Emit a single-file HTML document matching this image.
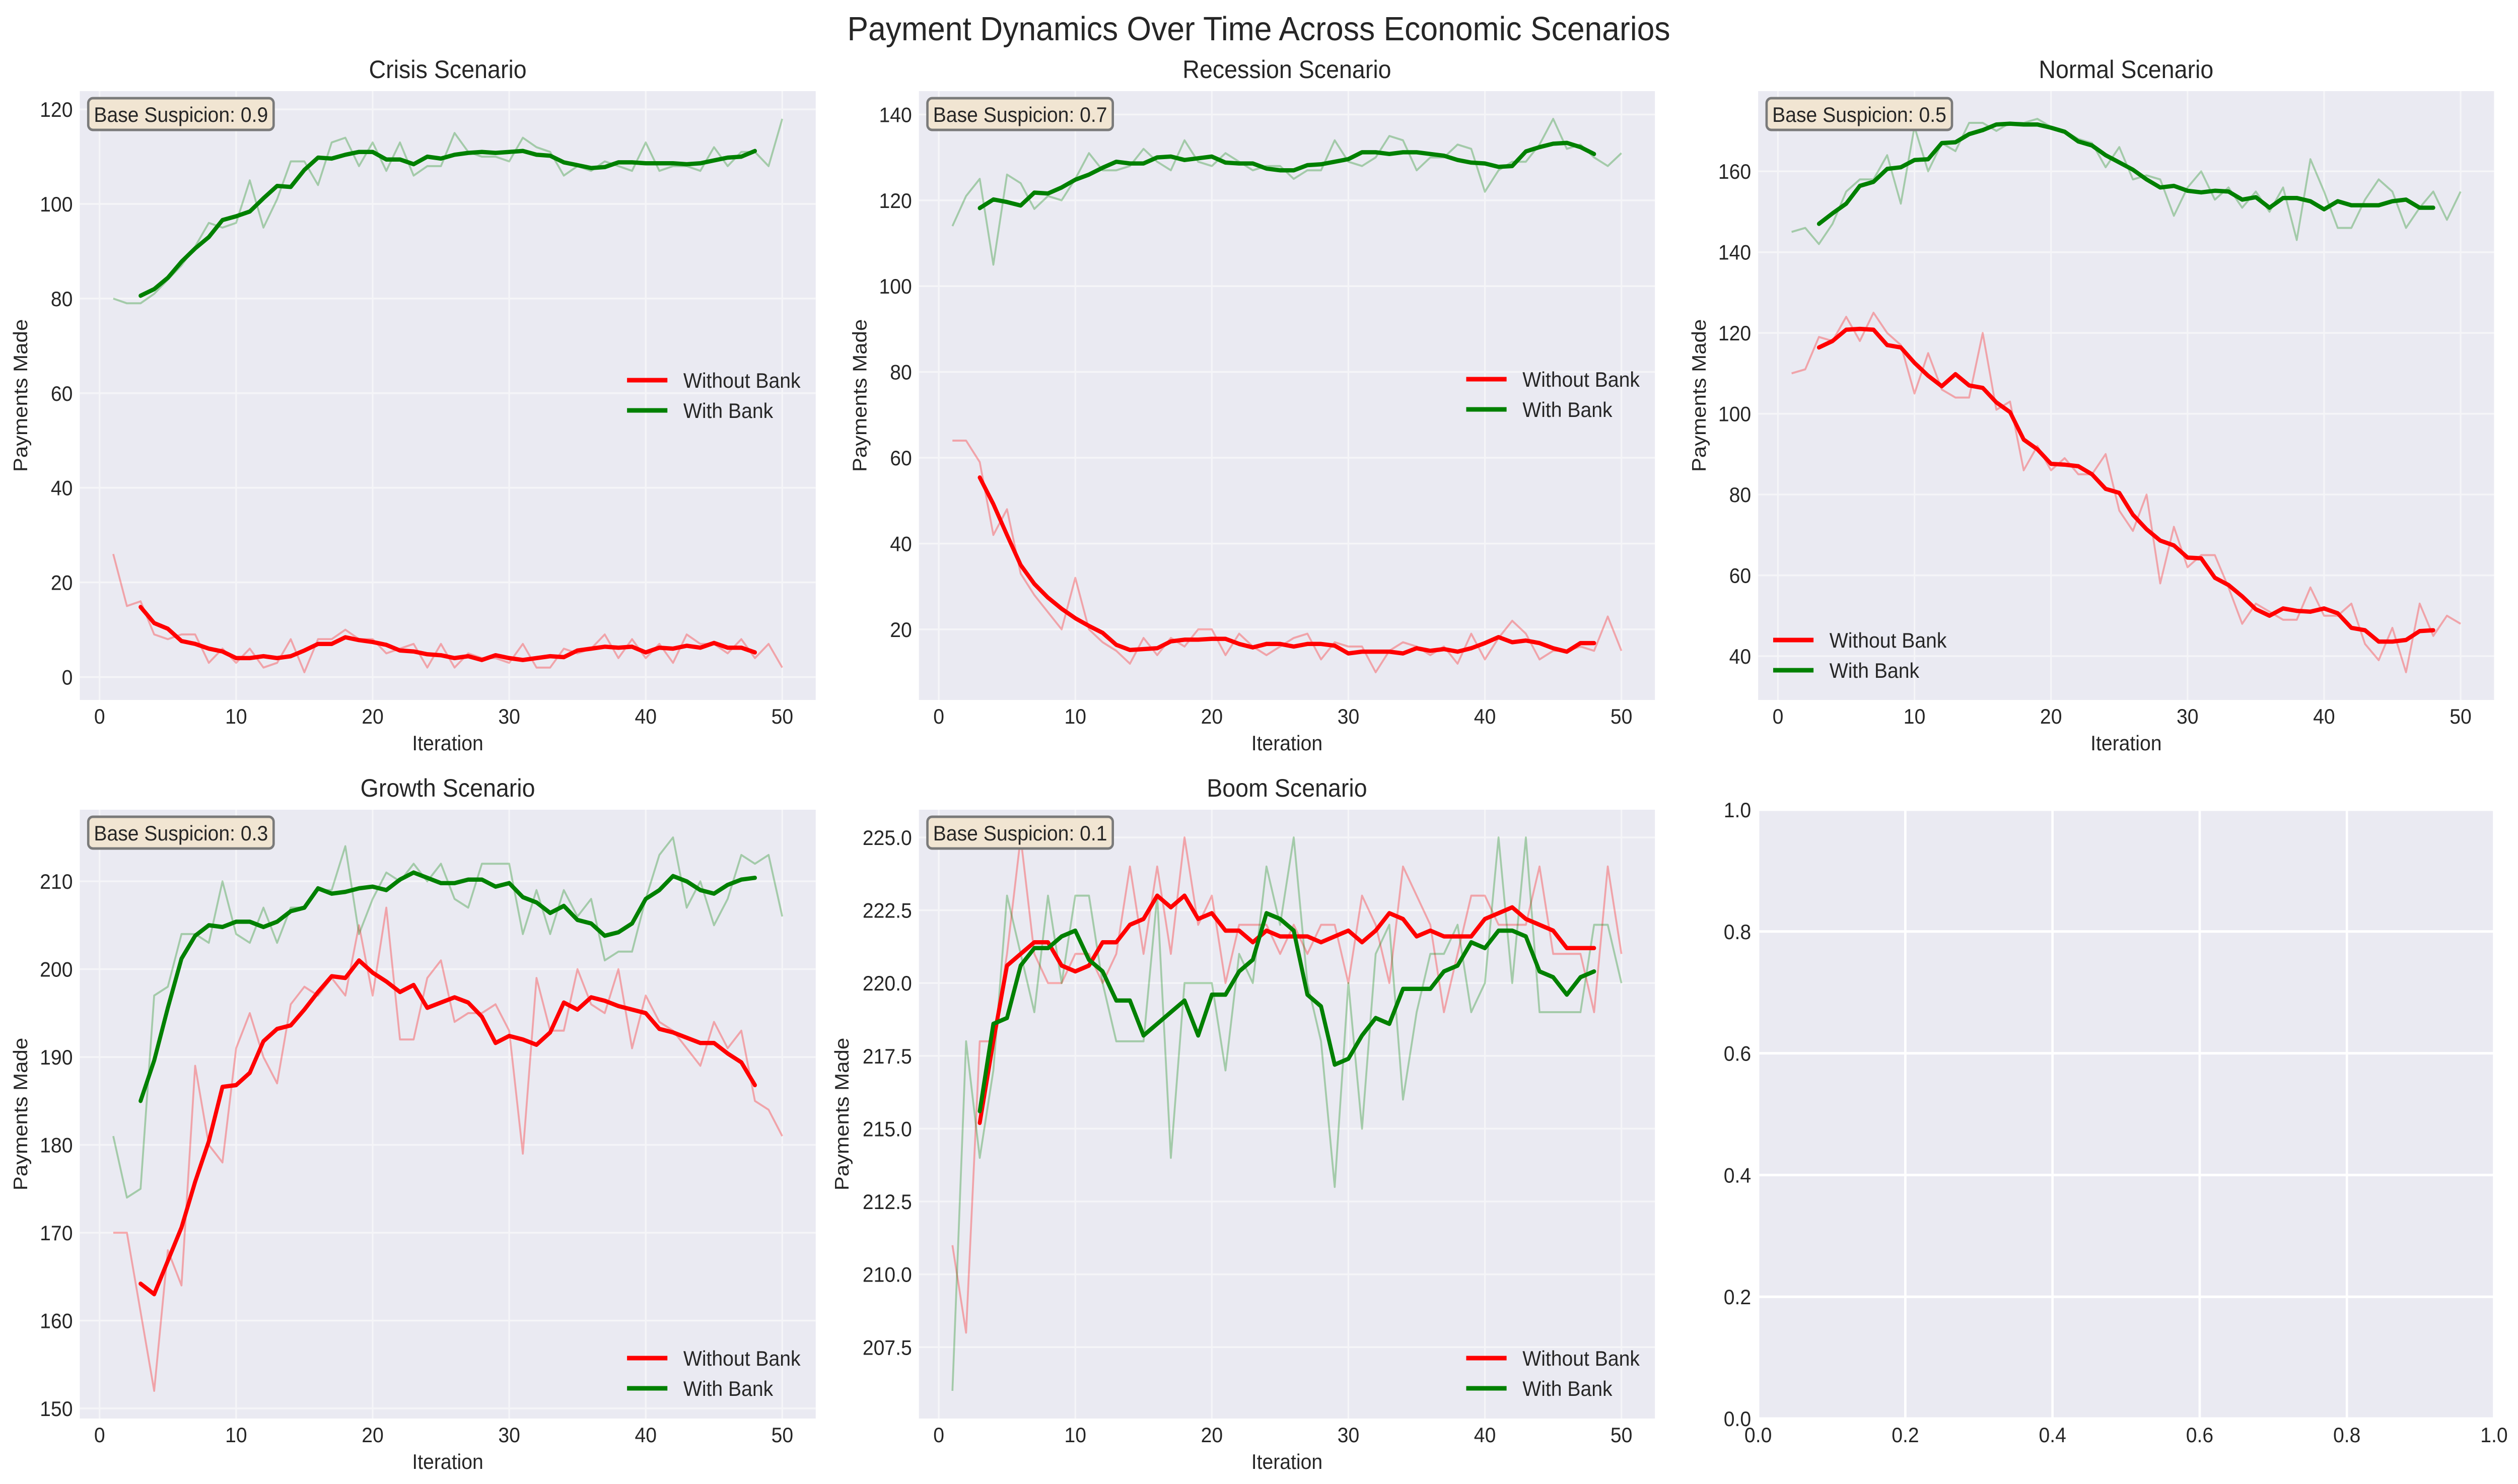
<!DOCTYPE html>
<html><head><meta charset="utf-8"><style>
html,body{margin:0;padding:0;background:#fff;overflow:hidden;width:100vw;height:100vh;}
svg{display:block;width:100vw;height:100vh;font-family:"Liberation Sans",Arial,sans-serif;}
</style></head><body>
<svg id="fig" xmlns="http://www.w3.org/2000/svg" viewBox="0 0 5365 2947" preserveAspectRatio="none">
<rect x="0" y="0" width="5365" height="2947" fill="#ffffff"/>
<text x="2682" y="80" font-size="67" text-anchor="middle" fill="#262626">Payment Dynamics Over Time Across Economic Scenarios</text>
</svg>
<script>
// ---- data ----
const iterations = Array.from({length:50},(_,i)=>i+1);
const xTicks = [0,10,20,30,40,50];

const crisisWithout = [26,15,16,9,8,9,9,3,6,3,6,2,3,8,1,8,8,10,8,8,5,6,7,2,7,2,5,4,4,3,7,2,2,6,5,6,9,4,8,4,7,3,9,7,7,5,8,4,7,2];
const crisisWith = [80,79,79,81,84,87,91,96,95,96,105,95,101,109,109,104,113,114,108,113,107,113,106,108,108,115,111,110,110,109,114,112,111,106,108,107,109,108,107,113,107,108,108,107,112,108,111,111,108,118];
const crisisTicks = [0,20,40,60,80,100,120];

const recessionWithout = [64,64,59,42,48,33,28,24,20,32,20,17,15,12,18,14,18,16,20,20,14,19,16,14,16,18,19,13,17,16,16,10,15,17,16,14,16,12,19,13,18,22,19,13,15,15,16,15,23,15];
const recessionWith = [114,121,125,105,126,124,118,121,120,125,131,127,127,128,132,129,127,134,129,128,131,129,127,128,128,125,127,127,134,129,128,130,135,134,127,130,130,133,132,122,127,129,129,133,139,132,133,130,128,131];
const recessionTicks = [20,40,60,80,100,120,140];

const normalWithout = [110,111,119,118,124,118,125,120,117,105,115,106,104,104,120,101,103,86,92,86,89,85,85,90,76,71,80,58,72,62,65,65,57,48,53,51,49,49,57,50,50,53,43,39,47,36,53,45,50,48];
const normalWith = [145,146,142,147,155,158,158,164,152,171,160,167,165,172,172,170,172,172,173,171,170,168,167,161,166,158,159,158,149,156,160,153,156,151,155,150,156,143,163,155,146,146,153,158,155,146,151,155,148,155];
const normalTicks = [40,60,80,100,120,140,160];

const growthWithout = [170,170,161,152,168,164,189,180,178,191,195,190,187,196,198,197,199,197,205,197,207,192,192,199,201,194,195,195,196,193,179,199,193,193,200,196,195,200,191,197,194,193,191,189,194,191,193,185,184,181];
const growthWith = [181,174,175,197,198,204,204,203,210,204,203,207,203,207,207,209,209,214,204,208,211,210,212,210,212,208,207,212,212,212,204,209,204,209,206,208,201,202,202,208,213,215,207,210,205,208,213,212,213,206];
const growthTicks = [150,160,170,180,190,200,210];

const boomWithout = [211,208,218,218,221,225,221,220,220,221,221,220,221,224,221,224,221,225,222,223,220,222,222,222,221,222,221,222,222,220,223,222,220,224,223,222,219,221,223,223,222,222,222,224,221,221,221,219,224,221];
const boomWith = [206,218,214,217,223,221,219,223,220,223,223,220,218,218,218,223,214,220,220,220,217,221,220,224,222,225,220,218,213,220,215,221,222,216,219,221,221,222,219,220,225,220,225,219,219,219,219,222,222,220];
const boomTicks = [207.5,210.0,212.5,215.0,217.5,220.0,222.5,225.0];

const emptyTicks = [0.0,0.2,0.4,0.6,0.8,1.0];

// ---- layout ----
const NS="http://www.w3.org/2000/svg";
const svg=document.getElementById('fig');
const AW=1568, AH=1209;
function el(tag,attrs,parent){const e=document.createElementNS(NS,tag);for(const k in attrs)e.setAttribute(k,attrs[k]);(parent||svg).appendChild(e);return e;}
function smooth(arr){const out=[];for(let i=2;i<arr.length-2;i++){let s=0;for(let j=-2;j<=2;j++)s+=arr[i+j];out.push({x:iterations[i],y:s/5});}return out;}

function panel(cfg){
  const g=el('g',{});
  
  
  const L=cfg.left,T=cfg.top;
  const bg=el('rect',{x:L,y:T,width:AW,height:AH,fill:'#eaeaf2'},g);
  
  
  let xmin,xmax,ymin,ymax;
  if(cfg.empty){xmin=0;xmax=1;ymin=0;ymax=1;}
  else{
    xmin=1-2.45;xmax=50+2.45;
    const all=cfg.without.concat(cfg.withb);
    const mn=Math.min(...all),mx=Math.max(...all),m=(mx-mn)*0.05;
    ymin=mn-m;ymax=mx+m;
  }
  const sx=v=>L+(v-xmin)/(xmax-xmin)*AW;
  const sy=v=>T+AH-(v-ymin)/(ymax-ymin)*AH;
  const gridCol=cfg.empty?'#ffffff':'#f5f5f8';
  const gw=cfg.empty?5:3.5;
  const xt=cfg.empty?emptyTicks:xTicks;
  xt.forEach(t=>{
    const gl=el('line',{x1:sx(t),x2:sx(t),y1:T,y2:T+AH,stroke:gridCol,'stroke-width':gw},g);
    
    
    const tl=el('text',{x:sx(t),y:T+AH+47,'font-size':42,'text-anchor':'middle',fill:'#262626'},g);
    tl.textContent=cfg.empty?t.toFixed(1):String(t);
    
    
  });
  cfg.yticks.forEach(t=>{
    const gl=el('line',{x1:L,x2:L+AW,y1:sy(t),y2:sy(t),stroke:gridCol,'stroke-width':gw},g);
    
    
    const tl=el('text',{x:L-15,y:sy(t)+15,'font-size':42,'text-anchor':'end',fill:'#262626'},g);
    tl.textContent=cfg.ydec?t.toFixed(cfg.ydec):String(t);
    
    
  });
  if(cfg.empty)return;
  const pts=(xs,ys)=>xs.map((x,i)=>sx(x).toFixed(1)+','+sy(ys[i]).toFixed(1)).join(' ');
  const rw=el('polyline',{points:pts(iterations,cfg.without),fill:'none',stroke:'#ff0000','stroke-opacity':0.3,'stroke-width':4,'stroke-linejoin':'round'},g);
  
  
  const gw2=el('polyline',{points:pts(iterations,cfg.withb),fill:'none',stroke:'#008000','stroke-opacity':0.3,'stroke-width':4,'stroke-linejoin':'round'},g);
  
  
  const s1=smooth(cfg.without),s2=smooth(cfg.withb);
  const rs=el('polyline',{points:pts(s1.map(p=>p.x),s1.map(p=>p.y)),fill:'none',stroke:'#ff0000','stroke-width':8.5,'stroke-linejoin':'round','stroke-linecap':'round'},g);
  
  
  const gs=el('polyline',{points:pts(s2.map(p=>p.x),s2.map(p=>p.y)),fill:'none',stroke:'#008000','stroke-width':8.5,'stroke-linejoin':'round','stroke-linecap':'round'},g);
  
  
  const ti=el('text',{x:L+AW/2,y:T-26,'font-size':50,'text-anchor':'middle',fill:'#262626'},g);
  ti.textContent=cfg.title;
  
  
  const xl=el('text',{x:L+AW/2,y:T+AH+100,'font-size':42,'text-anchor':'middle',fill:'#262626'},g);
  xl.textContent='Iteration';
  
  
  const yl=el('text',{x:0,y:0,'font-size':42,'text-anchor':'middle',fill:'#262626',transform:`translate(${cfg.ylx},${T+AH/2}) rotate(-90)`},g);
  yl.textContent='Payments Made';
  
  
  const ab=el('rect',{x:L+18,y:T+14,width:395,height:63,rx:10,fill:'#f1e5d2',stroke:'#7a7a7a','stroke-width':5},g);
  
  
  const at=el('text',{x:L+30,y:T+61,'font-size':42,fill:'#262626'},g);
  at.textContent='Base Suspicion: '+cfg.susp;
  
  
  const lx=L+cfg.legX, ly=T+cfg.legY;
  [['Without Bank','#ff0000',0],['With Bank','#008000',60]].forEach(([lab,col,dy])=>{
    const ll=el('line',{x1:lx,x2:lx+86,y1:ly+dy,y2:ly+dy,stroke:col,'stroke-width':9},g);
    
    
    const lt=el('text',{x:lx+120,y:ly+dy+15,'font-size':42,fill:'#262626'},g);
    lt.textContent=lab;
    
    
  });
}
const R1=181,R2=1608,C1=170,C2=1958,C3=3746;
panel({name:'crisis',title:'Crisis Scenario',left:C1,top:R1,without:crisisWithout,withb:crisisWith,yticks:crisisTicks,susp:'0.9',legX:1166,legY:574,ylx:58});
panel({name:'recession',title:'Recession Scenario',left:C2,top:R1,without:recessionWithout,withb:recessionWith,yticks:recessionTicks,susp:'0.7',legX:1166,legY:572,ylx:C2-112});
panel({name:'normal',title:'Normal Scenario',left:C3,top:R1,without:normalWithout,withb:normalWith,yticks:normalTicks,susp:'0.5',legX:32,legY:1090,ylx:C3-112});
panel({name:'growth',title:'Growth Scenario',left:C1,top:R2,without:growthWithout,withb:growthWith,yticks:growthTicks,susp:'0.3',legX:1166,legY:1089,ylx:58});
panel({name:'boom',title:'Boom Scenario',left:C2,top:R2,without:boomWithout,withb:boomWith,yticks:boomTicks,ydec:1,susp:'0.1',legX:1166,legY:1089,ylx:C2-150});
panel({name:'empty',left:C3,top:R2,empty:true,yticks:emptyTicks,ydec:1});
</script>
</body></html>
